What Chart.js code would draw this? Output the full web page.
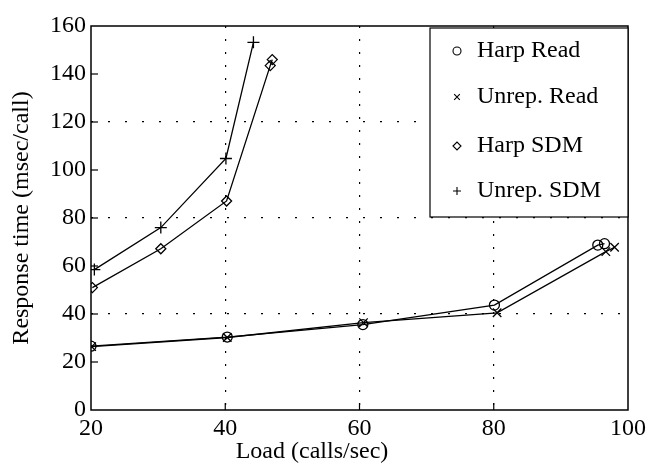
<!DOCTYPE html>
<html>
<head>
<meta charset="utf-8">
<style>
html,body{margin:0;padding:0;background:#fff;}
canvas{display:block;}
</style>
<script src="https://cdn.jsdelivr.net/npm/chart.js@4/dist/chart.umd.min.js"></script>
</head>
<body>
<canvas id="c" width="650" height="464"></canvas>
<script>
// ---- data ----
const seriesNames = ["Harp Read", "Unrep. Read", "Harp SDM", "Unrep. SDM"];
const harpReadX   = [20.0, 40.3, 60.5, 80.1, 95.5, 96.5];
const harpReadY   = [26.6, 30.4, 35.6, 43.7, 68.7, 69.3];
const unrepReadX  = [20.1, 40.3, 60.6, 80.5, 96.7, 98.0];
const unrepReadY  = [26.4, 30.2, 36.4, 40.5, 66.0, 67.8];
const harpSdmX    = [20.2, 30.4, 40.2, 46.7, 47.0];
const harpSdmY    = [51.0, 67.2, 87.1, 143.5, 146.0];
const unrepSdmX   = [20.5, 30.4, 40.1, 44.2];
const unrepSdmY   = [58.5, 76.0, 104.8, 153.2];
const xTicks = [20, 40, 60, 80, 100];
const yTicks = [0, 20, 40, 60, 80, 100, 120, 140, 160];
const xGridAt = [40, 60, 80];
const yGridAt = [40, 80, 120];
const xTitle = "Load (calls/sec)";
const yTitle = "Response time (msec/call)";

const FONT = '"Liberation Serif", "DejaVu Serif", serif';
const pts = (xs, ys) => xs.map((x, i) => ({x, y: ys[i]}));

const styles = [
  {pointStyle: 'circle',   radius: 5},
  {pointStyle: 'crossRot', radius: 6},
  {pointStyle: 'rectRot',  radius: 5},
  {pointStyle: 'cross',    radius: 6}
];
const dataArr = [
  pts(harpReadX, harpReadY),
  pts(unrepReadX, unrepReadY),
  pts(harpSdmX, harpSdmY),
  pts(unrepSdmX, unrepSdmY)
];

const datasets = seriesNames.map((name, i) => ({
  label: name,
  data: dataArr[i],
  borderColor: '#000',
  borderWidth: 1.3,
  backgroundColor: 'rgba(0,0,0,0)',
  pointStyle: styles[i].pointStyle,
  pointRadius: styles[i].radius,
  pointBorderColor: '#000',
  pointBackgroundColor: 'rgba(0,0,0,0)',
  pointBorderWidth: 1.3,
  tension: 0,
  fill: false
}));

const decor = {
  id: 'decor',
  afterDraw(chart) {
    const ctx = chart.ctx;
    const a = chart.chartArea;
    const xs = chart.scales.x, ys = chart.scales.y;
    ctx.save();
    // frame
    ctx.strokeStyle = '#000';
    ctx.lineWidth = 1.5;
    ctx.setLineDash([]);
    ctx.strokeRect(a.left, a.top, a.right - a.left, a.bottom - a.top);
    // inward ticks
    ctx.lineWidth = 1.2;
    yTicks.forEach(v => {
      if (v === 0 || v === 160) return;
      const y = ys.getPixelForValue(v);
      ctx.beginPath(); ctx.moveTo(a.left, y); ctx.lineTo(a.left + 7, y); ctx.stroke();
    });
    xTicks.forEach(v => {
      if (v === 20 || v === 100) return;
      const x = xs.getPixelForValue(v);
      ctx.beginPath(); ctx.moveTo(x, a.bottom); ctx.lineTo(x, a.bottom - 7); ctx.stroke();
    });
    // legend box
    const lx = 430, ly = a.top + 2, lr = a.right, lb = 217;
    ctx.fillStyle = '#fff';
    ctx.fillRect(lx, ly, lr - lx, lb - ly);
    ctx.lineWidth = 1.2;
    ctx.strokeRect(lx, ly, lr - lx, lb - ly);
    const baselines = [57, 103, 152, 197];
    const legRad = [4, 4, 4, 4];
    seriesNames.forEach((name, i) => {
      const by = baselines[i];
      ctx.fillStyle = 'rgba(0,0,0,0)';
      ctx.strokeStyle = '#000';
      ctx.lineWidth = 1.1;
      Chart.helpers.drawPoint(ctx, {
        pointStyle: styles[i].pointStyle, radius: legRad[i], rotation: 0,
        borderWidth: 1.1
      }, 457, by - 6);
      ctx.font = '24px ' + FONT;
      ctx.fillStyle = '#000';
      ctx.textAlign = 'left';
      ctx.textBaseline = 'alphabetic';
      ctx.fillText(name, 477, by);
    });
    // axis titles
    ctx.fillStyle = '#000';
    ctx.font = '24px ' + FONT;
    ctx.textAlign = 'center';
    ctx.textBaseline = 'alphabetic';
    ctx.fillText(xTitle, 312, 458);
    ctx.translate(28, (a.top + a.bottom) / 2);
    ctx.rotate(-Math.PI / 2);
    ctx.fillText(yTitle, 0, 0);
    ctx.restore();
  }
};

new Chart(document.getElementById('c'), {
  type: 'line',
  data: {datasets},
  options: {
    responsive: false,
    animation: false,
    devicePixelRatio: 1,
    layout: {padding: {top: 26, right: 21, left: 0, bottom: 0}},
    plugins: {legend: {display: false}, tooltip: {enabled: false}, title: {display: false}},
    scales: {
      x: {
        type: 'linear', min: 20, max: 100,
        afterFit: s => { s.height = 54; },
        afterBuildTicks: s => { s.ticks = xTicks.map(v => ({value: v})); },
        ticks: {color: '#000', font: {family: FONT, size: 24}, padding: 4, maxRotation: 0,
                callback: v => String(v)},
        grid: {
          drawTicks: false,
          lineWidth: 1.2,
          color: c => (c.tick && xGridAt.includes(c.tick.value)) ? '#000' : 'rgba(0,0,0,0)'
        },
        border: {display: false, dash: [2, 11]}
      },
      y: {
        type: 'linear', min: 0, max: 160,
        afterFit: s => { s.width = 91; },
        afterBuildTicks: s => { s.ticks = yTicks.map(v => ({value: v})); },
        ticks: {color: '#000', font: {family: FONT, size: 24}, padding: 5,
                callback: v => String(v)},
        grid: {
          drawTicks: false,
          lineWidth: 1.2,
          color: c => (c.tick && yGridAt.includes(c.tick.value)) ? '#000' : 'rgba(0,0,0,0)'
        },
        border: {display: false, dash: [2, 15]}
      }
    }
  },
  plugins: [decor]
});
</script>
</body>
</html>
